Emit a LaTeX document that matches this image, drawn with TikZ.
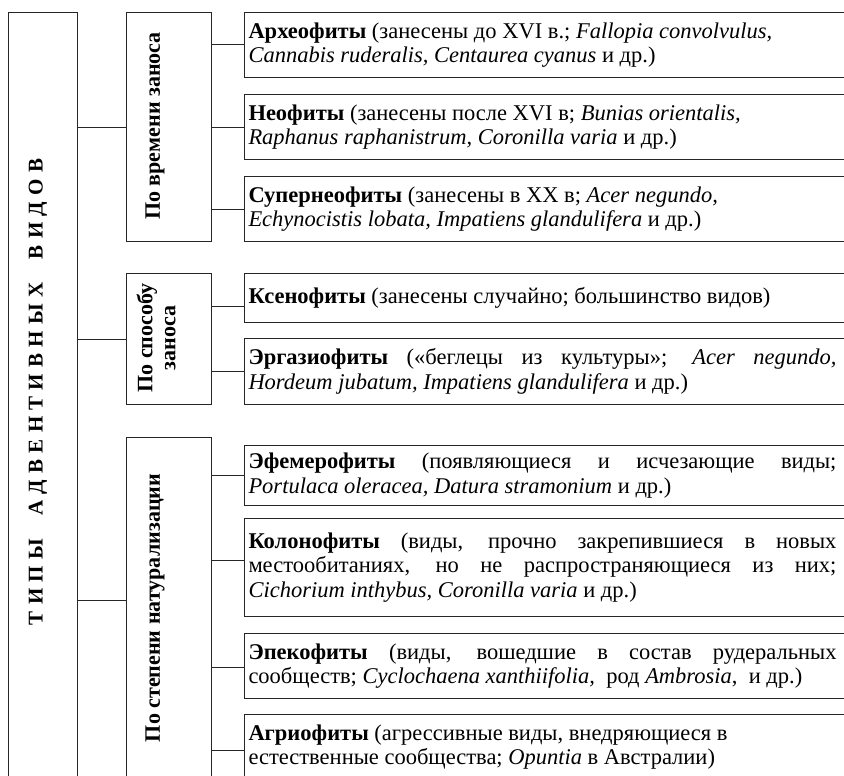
\documentclass[tikz,border=0pt]{standalone}
\usepackage{fontspec}
\setmainfont{Liberation Serif}
\newcommand\lftxt[1]{\parbox{588pt}{\fontsize{22.5}{24.5}\selectfont\rightskip=0pt\relax #1}}
\begin{document}
\begin{tikzpicture}[x=1pt,y=-1pt,
  frame/.style={draw=black!85, line width=1pt, anchor=north west, inner sep=0pt},
  leaf/.style={draw=black!85, line width=1pt, anchor=north west, text width=610pt,
    inner xsep=4pt, inner ysep=0pt, align=justify},
  conn/.style={draw=black!85, line width=1pt},
  vlab/.style={rotate=90, font=\fontsize{22}{23}\selectfont\bfseries, align=center, inner sep=0pt},
  roottxt/.style={rotate=90, inner sep=0pt,
    font=\fontsize{21}{23}\selectfont\bfseries\addfontfeatures{LetterSpace=30}}]
\useasboundingbox (0,0) rectangle (844,776);
\clip (0,0) rectangle (844,776);
\fill[white] (0,0) rectangle (844,776);
% root
\node[frame, minimum width=69pt, minimum height=800pt] (root) at (8,12) {};
\node[roottxt] (rootlab) at (38,392) {ТИПЫ\ \ АДВЕНТИВНЫХ\ \ ВИДОВ};
% second column
\node[frame, minimum width=85pt, minimum height=229pt] (ca) at (126,12) {};
\node[frame, minimum width=85pt, minimum height=131pt] (cb) at (126,273) {};
\node[frame, minimum width=85pt, minimum height=400pt] (cc) at (126,437) {};
\node[vlab] (calab) at (155,126) {По времени заноса};
\node[vlab] (cblab) at (156,338) {По способу\\заноса};
\node[vlab] (cclab) at (155,608) {По степени натурализации};
% leaves
\node[leaf, minimum height=65pt] (a1) at (244,12) {\lftxt{\textbf{Археофиты} (занесены до XVI в.; \textit{Fallopia convolvulus,}\newline \textit{Cannabis ruderalis, Centaurea cyanus} и~др.)}};
\node[leaf, minimum height=65pt] (a2) at (244,94) {\lftxt{\textbf{Неофиты} (занесены после XVI в; \textit{Bunias orientalis,}\newline \textit{Raphanus raphanistrum, Coronilla varia} и~др.)}};
\node[leaf, minimum height=65pt] (a3) at (244,176) {\lftxt{\textbf{Супернеофиты} (занесены в XX в; \textit{Acer negundo,}\newline \textit{Echynocistis lobata, Impatiens glandulifera} и~др.)}};
\node[leaf, minimum height=49pt] (b1) at (244,273) {\lftxt{\textbf{Ксенофиты} (занесены случайно; большинство видов)}};
\node[leaf, minimum height=66pt] (b2) at (244,338) {\lftxt{\textbf{Эргазиофиты} («беглецы из культуры»; \textit{Acer negundo,}\linebreak \textit{Hordeum jubatum, Impatiens glandulifera} и~др.)}};
\node[leaf, minimum height=60pt] (c1) at (244,445) {\lftxt{\textbf{Эфемерофиты} (появляющиеся и исчезающие виды;\linebreak \textit{Portulaca oleracea, Datura stramonium} и~др.)}};
\node[leaf, minimum height=98pt] (c2) at (244,518) {\lftxt{\textbf{Колонофиты} (виды, прочно закрепившиеся в новых\linebreak местообитаниях, но не распространяющиеся из них;\linebreak \textit{Cichorium inthybus, Coronilla varia} и~др.)}};
\node[leaf, minimum height=65pt] (c3) at (244,633) {\lftxt{\textbf{Эпекофиты} (виды, вошедшие в состав рудеральных\linebreak сообществ; \textit{Cyclochaena xanthiifolia,}\ \ род \textit{Ambrosia},\ \ и~др.)}};
\node[leaf, minimum height=65pt] (c4) at (244,714) {\lftxt{\textbf{Агриофиты} (агрессивные виды, внедряющиеся в\newline естественные сообщества; \textit{Opuntia} в Австралии)}};
% junction points
\coordinate (jc) at (0,600);
\coordinate (jb1) at (0,306);
\coordinate (jc2) at (0,560);
\coordinate (jc3) at (0,667);
\coordinate (jc4) at (0,750);
% connectors
\draw[conn] (root.east |- ca.west) -- (ca.west);
\draw[conn] (root.east |- cb.west) -- (cb.west);
\draw[conn] (root.east |- jc) -- (cc.west |- jc);
\draw[conn] (ca.east |- a1.west) -- (a1.west);
\draw[conn] (ca.east |- a2.west) -- (a2.west);
\draw[conn] (ca.east |- a3.west) -- (a3.west);
\draw[conn] (cb.east |- jb1) -- (b1.west |- jb1);
\draw[conn] (cb.east |- b2.west) -- (b2.west);
\draw[conn] (cc.east |- c1.west) -- (c1.west);
\draw[conn] (cc.east |- jc2) -- (c2.west |- jc2);
\draw[conn] (cc.east |- jc3) -- (c3.west |- jc3);
\draw[conn] (cc.east |- jc4) -- (c4.west |- jc4);
\end{tikzpicture}
\end{document}
